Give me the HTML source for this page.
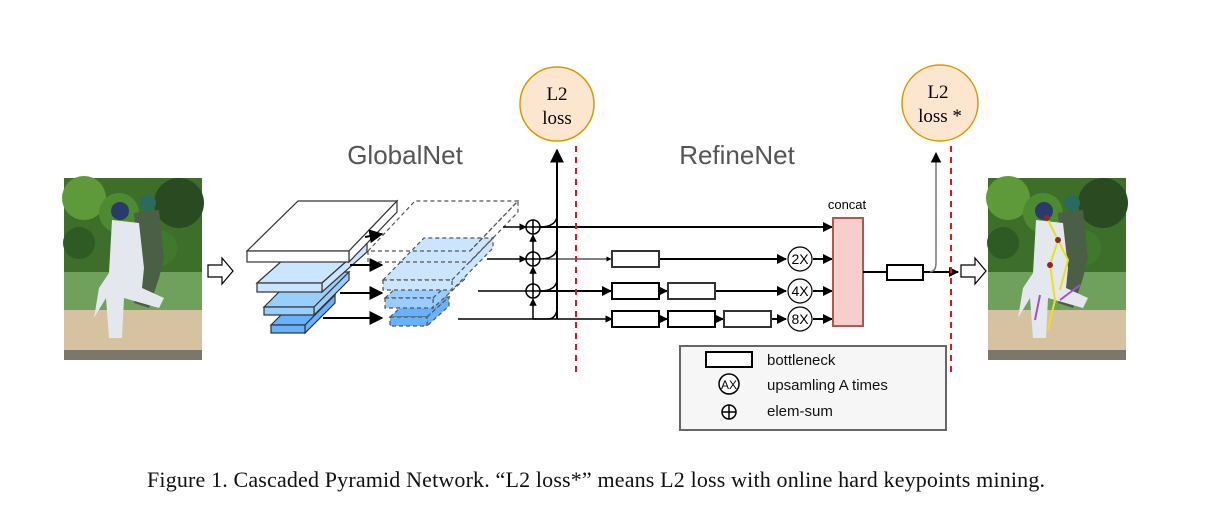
<!DOCTYPE html>
<html><head><meta charset="utf-8"><style>
html,body{margin:0;padding:0;background:#fff;width:1221px;height:526px;overflow:hidden}
svg{display:block}
</style></head><body>
<svg width="1221" height="526" viewBox="0 0 1221 526" xmlns="http://www.w3.org/2000/svg">
<defs>
<marker id="ah" viewBox="0 0 10 10" refX="9" refY="5" markerWidth="7" markerHeight="7" orient="auto"><path d="M0,0 L10,5 L0,10 z" fill="#000"/></marker>
<marker id="ahs" viewBox="0 0 10 10" refX="9" refY="5" markerWidth="5" markerHeight="5" orient="auto"><path d="M0,0 L10,5 L0,10 z" fill="#000"/></marker>
<g id="photo">
<rect x="0" y="0" width="138" height="182" fill="#d8c3a3"/>
<rect x="0" y="0" width="138" height="94" fill="#3d6e2a"/>
<circle cx="20" cy="20" r="22" fill="#5f9a3a"/><circle cx="55" cy="35" r="20" fill="#4d8a30"/><circle cx="115" cy="25" r="25" fill="#2a4a22"/><circle cx="95" cy="70" r="18" fill="#3f7a2c"/><circle cx="15" cy="65" r="16" fill="#2e5a24"/>
<rect x="0" y="94" width="138" height="38" fill="#6fa05c"/>
<rect x="0" y="132" width="138" height="40" fill="#d6c1a1"/>
<rect x="0" y="172" width="138" height="10" fill="#7d766a"/>
<path d="M70,35 L95,32 L100,80 L95,100 L85,130 L70,125 L75,95 Z" fill="#4a5f46"/>
<circle cx="84" cy="25" r="8" fill="#2b6a5e"/>
<path d="M48,42 L75,45 L80,90 L78,110 L100,120 L95,130 L60,120 L58,160 L45,160 L42,120 L30,140 L35,110 L45,95 Z" fill="#e4e8ee"/>
<circle cx="56" cy="33" r="9" fill="#2a3a6a"/>
</g>
</defs>

<use href="#photo" x="64" y="178"/>
<use href="#photo" x="988" y="178"/>
<g stroke="#e8e020" stroke-width="2" fill="none"><path d="M1047,218 L1058,240 L1050,265 L1055,300 L1048,330"/><path d="M1058,240 L1068,260 L1060,290"/></g>
<g fill="#8b2a2a"><circle cx="1047" cy="218" r="3"/><circle cx="1058" cy="240" r="3"/><circle cx="1050" cy="265" r="3"/></g>
<g stroke="#a050d0" stroke-width="2" fill="none"><path d="M1040,295 L1035,320 M1080,285 L1060,300"/></g>

<path d="M208,265 L222,265 L222,258 L233,271 L222,284 L222,277 L208,277 Z" fill="#fff" stroke="#000" stroke-width="1.2"/>
<path d="M961,265 L975,265 L975,258 L986,271 L975,284 L975,277 L961,277 Z" fill="#fff" stroke="#000" stroke-width="1.2"/>

<text x="405" y="164" font-family="Liberation Sans, sans-serif" font-size="26" fill="#555" text-anchor="middle">GlobalNet</text>
<text x="737" y="164" font-family="Liberation Sans, sans-serif" font-size="26" fill="#555" text-anchor="middle">RefineNet</text>

<g stroke="#333" stroke-width="1.2">
<g fill="#66b2ff"><path d="M271,325 L301,295 L335,295 L305,325 Z"/><path d="M305,325 L335,295 L335,303 L305,333 Z"/><rect x="271" y="325" width="34" height="8"/></g>
<g fill="#99ccff"><path d="M264,307 L299,272 L349,272 L314,307 Z"/><path d="M314,307 L349,272 L349,280 L314,315 Z"/><rect x="264" y="307" width="50" height="8"/></g>
<g fill="#cce5ff"><path d="M257,283 L302,243 L367,243 L322,283 Z"/><path d="M322,283 L367,243 L367,252 L322,292 Z"/><rect x="257" y="283" width="65" height="9"/></g>
<g fill="#fff"><path d="M247,251 L298,201 L397,201 L349,251 Z"/><path d="M349,251 L397,201 L397,212 L349,262 Z"/><rect x="247" y="251" width="102" height="11"/></g>
</g>
<g stroke="#555" stroke-width="1.2" stroke-dasharray="4,3">
<g fill="#66b2ff"><path d="M390,317 L412,297 L449,297 L427,317 Z"/><path d="M427,317 L449,297 L449,306 L427,326 Z"/><rect x="390" y="317" width="37" height="9"/></g>
<g fill="#99ccff"><path d="M385,298 L418,268 L466,268 L433,298 Z"/><path d="M433,298 L466,268 L466,278 L433,308 Z"/><rect x="385" y="298" width="48" height="10"/></g>
<g fill="#cce5ff"><path d="M383,280 L424,238 L493,238 L452,280 Z"/><path d="M452,280 L493,238 L493,248 L452,290 Z"/><rect x="383" y="280" width="69" height="10"/></g>
<g fill="none"><path d="M368,251 L415,201 L518,201 L470,251 Z"/><path d="M470,251 L518,201 L518,212 L470,262"/><path d="M368,251 L368,262 L470,262"/></g>
</g>
<g stroke="#000" stroke-width="2" fill="none" marker-end="url(#ah)">
<line x1="365" y1="237" x2="382" y2="234"/>
<line x1="350" y1="265" x2="382" y2="265"/>
<line x1="340" y1="293" x2="382" y2="293"/>
<line x1="323" y1="318" x2="382" y2="318"/>
</g>

<g stroke="#000" stroke-width="1.5" fill="none">
<line x1="503" y1="227" x2="526" y2="227" marker-end="url(#ahs)"/>
<line x1="487" y1="259" x2="526" y2="259" marker-end="url(#ahs)"/>
<line x1="478" y1="291" x2="526" y2="291"/>
<line x1="458" y1="319" x2="612" y2="319" marker-end="url(#ahs)"/>
<line x1="533" y1="319" x2="533" y2="299" marker-end="url(#ahs)"/>
<line x1="533" y1="284" x2="533" y2="267" marker-end="url(#ahs)"/>
<line x1="533" y1="252" x2="533" y2="235" marker-end="url(#ahs)"/>
<circle cx="533" cy="227" r="7"/><line x1="526" y1="227" x2="540" y2="227"/><line x1="533" y1="220" x2="533" y2="234"/>
<circle cx="533" cy="259" r="7"/><line x1="526" y1="259" x2="540" y2="259"/><line x1="533" y1="252" x2="533" y2="266"/>
<circle cx="533" cy="291" r="7"/><line x1="526" y1="291" x2="540" y2="291"/><line x1="533" y1="284" x2="533" y2="298"/>
<path d="M540,227 C552,227 557,222 557,215"/>
<path d="M540,259 C552,259 557,254 557,247"/>
<path d="M540,291 C552,291 557,286 557,279"/>
<path d="M533,319 L548,319 C554,319 557,314 557,308"/>
</g>
<line x1="557" y1="319" x2="557" y2="150" stroke="#000" stroke-width="2" marker-end="url(#ah)"/>

<g stroke="#000" stroke-width="2" fill="none">
<line x1="540" y1="227" x2="832" y2="227" marker-end="url(#ahs)"/>
<line x1="540" y1="259" x2="611" y2="259" stroke-width="1" marker-end="url(#ahs)"/>
<line x1="540" y1="291" x2="611" y2="291" marker-end="url(#ahs)"/>
<line x1="659" y1="259" x2="786" y2="259" marker-end="url(#ahs)"/>
<line x1="659" y1="291" x2="667" y2="291" marker-end="url(#ahs)"/>
<line x1="715" y1="291" x2="786" y2="291" marker-end="url(#ahs)"/>
<line x1="659" y1="319" x2="667" y2="319" marker-end="url(#ahs)"/>
<line x1="715" y1="319" x2="723" y2="319" marker-end="url(#ahs)"/>
<line x1="771" y1="319" x2="786" y2="319" marker-end="url(#ahs)"/>
<line x1="813" y1="259" x2="832" y2="259" marker-end="url(#ahs)"/>
<line x1="813" y1="291" x2="832" y2="291" marker-end="url(#ahs)"/>
<line x1="813" y1="319" x2="832" y2="319" marker-end="url(#ahs)"/>
<rect x="612" y="251" width="47" height="16" stroke="#333"/>
<rect x="612" y="283" width="47" height="16"/><rect x="668" y="283" width="47" height="16" stroke="#333"/>
<rect x="612" y="311" width="47" height="16"/><rect x="668" y="311" width="47" height="16"/><rect x="724" y="311" width="47" height="16" stroke="#333"/>
</g>
<g fill="#fff" stroke="#000" stroke-width="1.2">
<circle cx="800" cy="259" r="12"/><circle cx="800" cy="291" r="12"/><circle cx="800" cy="319" r="12"/>
</g>
<g font-family="Liberation Sans, sans-serif" font-size="14" text-anchor="middle">
<text x="800" y="264">2X</text><text x="800" y="296">4X</text><text x="800" y="324">8X</text>
</g>
<text x="847" y="209" font-family="Liberation Sans, sans-serif" font-size="13" text-anchor="middle">concat</text>
<rect x="833" y="218" width="30" height="108" fill="#f8cecc" stroke="#b85450" stroke-width="2"/>
<g stroke="#000" stroke-width="2" fill="none">
<line x1="863" y1="272" x2="958" y2="272" marker-end="url(#ahs)"/>
<rect x="887" y="265" width="36" height="15" fill="#fff"/>
</g>
<path d="M930,272 C935,271 936,268 936,262 L936,153" stroke="#777" stroke-width="1.5" fill="none" marker-end="url(#ah)"/>

<line x1="576" y1="146" x2="576" y2="376" stroke="#e8141c" stroke-width="2" stroke-dasharray="6,5"/>
<line x1="951" y1="146" x2="951" y2="376" stroke="#e8141c" stroke-width="2" stroke-dasharray="6,5"/>

<circle cx="557" cy="104" r="37" fill="#fde6cf" stroke="#d79b00" stroke-width="1.5"/>
<text x="557" y="100" font-family="Liberation Serif, serif" font-size="19" text-anchor="middle">L2</text>
<text x="557" y="124" font-family="Liberation Serif, serif" font-size="19" text-anchor="middle">loss</text>
<circle cx="940" cy="103" r="38" fill="#fde6cf" stroke="#d79b00" stroke-width="1.5"/>
<text x="938" y="98" font-family="Liberation Serif, serif" font-size="19" text-anchor="middle">L2</text>
<text x="940" y="122" font-family="Liberation Serif, serif" font-size="19" text-anchor="middle">loss *</text>

<rect x="680" y="346" width="266" height="84" fill="#f5f6f5" stroke="#666" stroke-width="2"/>
<rect x="706" y="352" width="46" height="15" fill="#fff" stroke="#000" stroke-width="2"/>
<circle cx="729" cy="384" r="10" fill="#fff" stroke="#000" stroke-width="1.5"/>
<text x="729" y="389" font-family="Liberation Sans, sans-serif" font-size="12" text-anchor="middle">AX</text>
<g stroke="#000" stroke-width="1.5" fill="none"><circle cx="729" cy="412" r="7"/><line x1="722" y1="412" x2="736" y2="412"/><line x1="729" y1="405" x2="729" y2="419"/></g>
<g font-family="Liberation Sans, sans-serif" font-size="15" fill="#111">
<text x="767" y="365">bottleneck</text>
<text x="767" y="390">upsamling A times</text>
<text x="767" y="416">elem-sum</text>
</g>

<text x="147" y="487" font-family="Liberation Serif, serif" font-size="22" textLength="898" lengthAdjust="spacing" fill="#111">Figure 1. Cascaded Pyramid Network. “L2 loss*” means L2 loss with online hard keypoints mining.</text>
</svg>
</body></html>
